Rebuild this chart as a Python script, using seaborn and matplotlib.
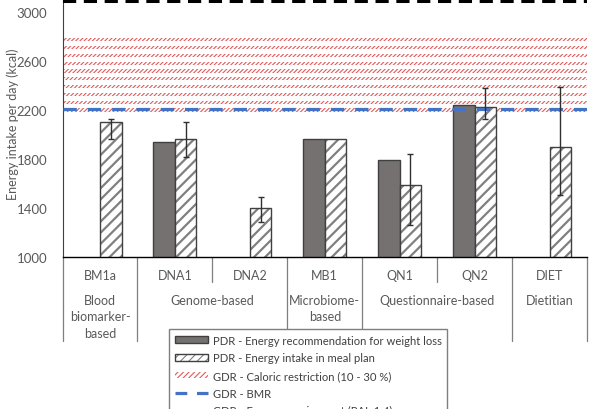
import numpy as np
import pandas as pd
import matplotlib.pyplot as plt
import matplotlib.colors as mcolors
from matplotlib.patches import Patch
from matplotlib.lines import Line2D
import seaborn as sns

# -----------------------------
# Data (kcal per day)
# -----------------------------
categories = ["BM1a", "DNA1", "DNA2", "MB1", "QN1", "QN2", "DIET"]
group_of = ["Blood\nbiomarker-\nbased", "Genome-based", "Genome-based",
            "Microbiome-\nbased", "Questionnaire-based", "Questionnaire-based",
            "Dietitian"]

pdr_recommendation = [np.nan, 1944, np.nan, 1969, 1797, 2241, np.nan]
pdr_meal_plan = [2102, 1969, 1402, 1969, 1593, 2230, 1901]
meal_plan_low = [1969, 1816, 1291, np.nan, 1267, 2132, 1506]
meal_plan_high = [2128, 2105, 1490, np.nan, 1847, 2385, 2390]

gdr_energy_requirement = 3090   # PAL 1.4
gdr_bmr = 2212
restriction_low = 2172          # 30 % restriction
restriction_high = 2790         # 10 % restriction

y_major_ticks = [1000, 1400, 1800, 2200, 2600, 3000]
y_minor_ticks = [1200, 1600, 2000, 2400, 2800, 3200]

series_names = ["PDR - Energy recommendation for weight loss",
                "PDR - Energy intake in meal plan"]
legend_labels = series_names + ["GDR - Caloric restriction (10 - 30 %)",
                                "GDR - BMR",
                                "GDR - Energy requirement (PAL 1.4)"]

df = pd.DataFrame({
    "category": categories * 2,
    "series": [series_names[0]] * len(categories) + [series_names[1]] * len(categories),
    "kcal": pdr_recommendation + pdr_meal_plan,
}).dropna()

# -----------------------------
# Style
# -----------------------------
sns.set_style("white")
plt.rcParams["font.family"] = ["Lato", "DejaVu Sans"]
plt.rcParams["lines.scale_dashes"] = False
plt.rcParams["hatch.linewidth"] = 1.6

SOLID = "#767171"
EDGE = "#404040"
HATCH = "#808080"
RED = "#E05A5A"
BLUE = "#4472C4"
TEXT = "#595959"

# -----------------------------
# Figure / axes (pixel layout)
# -----------------------------
W, H = 590, 410
fig = plt.figure(figsize=(W / 100, H / 100), dpi=100)
ax_left, ax_right = 62.5, 587
ax_bottom, ax_top = 258.3, -11.2
ax = fig.add_axes([ax_left / W, 1 - ax_bottom / H,
                   (ax_right - ax_left) / W, (ax_bottom - ax_top) / H])


def below(px):
    # image pixel row -> axes fraction
    return (ax_bottom - px) / (ax_bottom - ax_top)


# -----------------------------
# Bars
# -----------------------------
sns.barplot(
    data=df, x="category", y="kcal", hue="series",
    order=categories, hue_order=series_names,
    width=0.575, gap=0, errorbar=None, legend=False,
    ax=ax, zorder=2,
)

for bar in ax.containers[0]:
    bar.set_facecolor(SOLID)
    bar.set_edgecolor(EDGE)
    bar.set_linewidth(1)

for bar in ax.containers[1]:
    bar.set_facecolor("white")
    bar.set_edgecolor(EDGE)
    bar.set_linewidth(1)
    bar.set_hatch("///")
    bar._hatch_color = mcolors.to_rgba(HATCH)

# error bars on the meal plan bars
xs = [b.get_x() + b.get_width() / 2 for b in ax.containers[1]]
meal = np.array(pdr_meal_plan, dtype=float)
yerr = [meal - np.array(meal_plan_low), np.array(meal_plan_high) - meal]
ax.errorbar(xs, meal, yerr=yerr, fmt="none", ecolor="#303030",
            elinewidth=1, capsize=2.5, capthick=1, zorder=4)

# -----------------------------
# Guideline references
# -----------------------------
plt.rcParams["hatch.linewidth"] = 0.8
for c in np.linspace(restriction_low + 30, restriction_high - 14, 10):
    span = ax.axhspan(c - 13, c + 13, facecolor="none", edgecolor=RED,
                      lw=0, hatch="////////", zorder=1)
    if hasattr(span, "set_hatch_linewidth"):
        span.set_hatch_linewidth(0.8)
for bar in ax.containers[1]:
    if hasattr(bar, "set_hatch_linewidth"):
        bar.set_hatch_linewidth(1.6)

ax.axhline(gdr_bmr, color=BLUE, lw=2.3, dashes=(9.6, 7.9), zorder=3)
ax.axhline(gdr_energy_requirement, color="black", lw=2.9,
           dashes=(9.5, 5.5), zorder=3)

# -----------------------------
# Axes
# -----------------------------
ax.set_xlim(-0.5, len(categories) - 0.5)
ax.set_ylim(1000, 3200)
ax.set_yticks(y_major_ticks)
ax.set_yticks(y_minor_ticks, minor=True)
ax.tick_params(axis="y", which="both", direction="out", length=3,
               width=0.8, color=EDGE, pad=8, labelsize=9.5, labelcolor=TEXT)
ax.tick_params(axis="x", length=0, labelbottom=False)
ax.set_xlabel("")
ax.set_ylabel("Energy intake per day (kcal)", fontsize=9, color=TEXT)
ax.yaxis.set_label_coords(-0.083, below(124.5))

sns.despine(ax=ax, top=True, right=True)
ax.spines["left"].set_color(EDGE)
ax.spines["left"].set_linewidth(0.8)
ax.spines["bottom"].set_color("black")
ax.spines["bottom"].set_linewidth(1)

# -----------------------------
# Category table under the axis
# -----------------------------
xt = ax.get_xaxis_transform()
for i, cat in enumerate(categories):
    ax.text(i, below(275.7), cat, transform=xt, ha="center", va="center",
            fontsize=9, color=TEXT)

start = 0
for i in range(1, len(categories) + 1):
    if i == len(categories) or group_of[i] != group_of[start]:
        x = (start + i - 1) / 2
        for k, line in enumerate(group_of[start].split("\n")):
            ax.text(x, below(301 + 16.4 * k), line, transform=xt,
                    ha="center", va="center", fontsize=9, color=TEXT)
        start = i

for i in range(len(categories) + 1):
    long_line = i in (0, len(categories)) or group_of[i - 1] != group_of[i]
    y_end = 341.7 if long_line else 283
    ax.plot([i - 0.5, i - 0.5], [0, below(y_end)], transform=xt,
            clip_on=False, color="#7F7F7F", lw=0.9)

# -----------------------------
# Legend
# -----------------------------
solid_handle = Patch(facecolor=SOLID, edgecolor=EDGE, lw=1)
hatch_handle = Patch(facecolor="white", edgecolor=EDGE, lw=1, hatch="////")
hatch_handle._hatch_color = mcolors.to_rgba(HATCH)
red_handle = Patch(facecolor="white", edgecolor=RED, lw=0, hatch="//////")
blue_handle = Line2D([], [], color=BLUE, lw=2.3, dashes=(8.5, 7))
black_handle = Line2D([], [], color="black", lw=2.3, dashes=(8.5, 7))

fig.legend(
    [solid_handle, hatch_handle, red_handle, blue_handle, black_handle],
    legend_labels,
    loc="upper left", bbox_to_anchor=(169.3 / W, 1 - 330 / H),
    fontsize=8.1, labelcolor="#404040", frameon=True, fancybox=False,
    framealpha=1, edgecolor="#7F7F7F", borderaxespad=0, borderpad=0.5,
    handlelength=2.9, handleheight=0.55, handletextpad=0.45, labelspacing=0.59,
)

fig.savefig("out.png", dpi=100)
